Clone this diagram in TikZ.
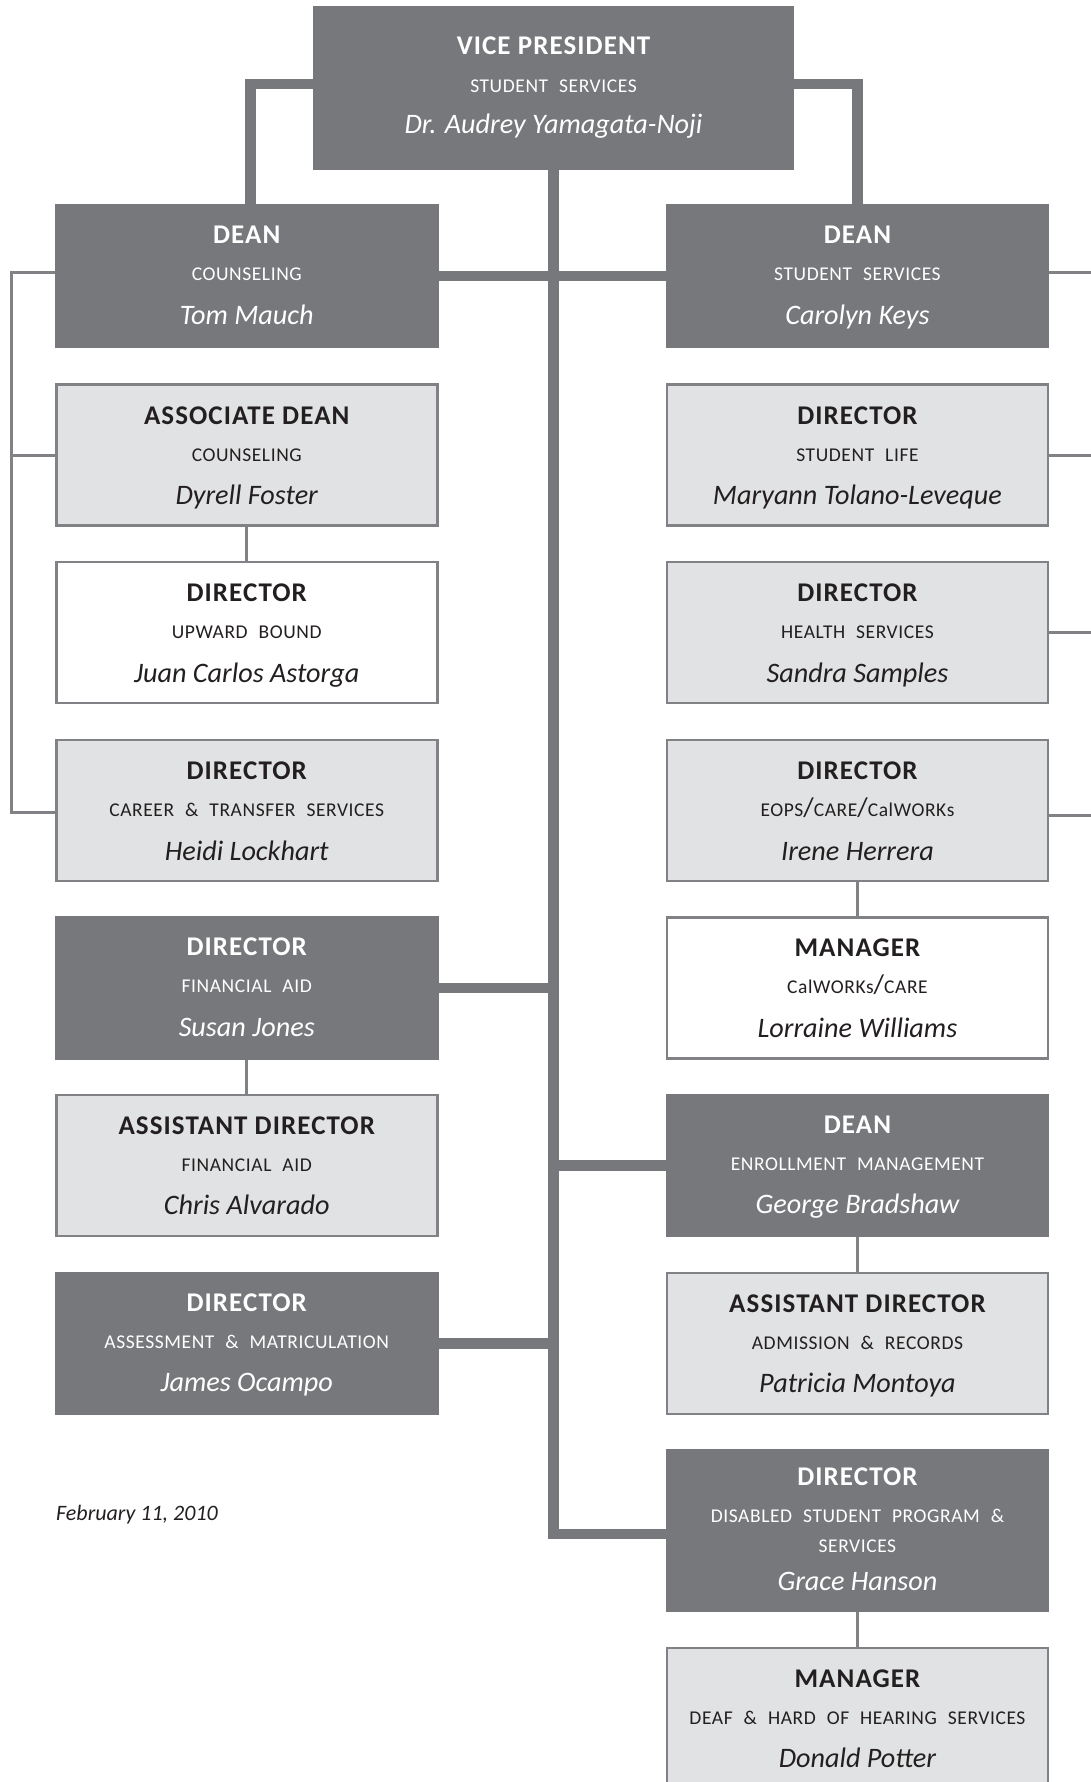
\documentclass[tikz,border=0pt]{standalone}
\usepackage{fontspec}
\setmainfont{Carlito}
\newfontfamily\titlefont[LetterSpace=4.0]{Carlito}
\newfontfamily\unitfont[LetterSpace=3.0,WordSpace=2.2]{Carlito}
\newfontfamily\personfont{Carlito}
\usetikzlibrary{backgrounds}

\definecolor{slate}{HTML}{77787B}
\definecolor{mist}{HTML}{E1E2E3}
\definecolor{rim}{HTML}{808285}
\definecolor{ink}{HTML}{231F20}

\tikzset{
  box/.style={rectangle, inner sep=0pt, outer sep=0pt, anchor=north west},
  darkbox/.style={box, fill=slate, minimum width=383.5, minimum height=143.5},
  palebox/.style={box, fill=mist, draw=rim, line width=2.5, minimum width=381,
    minimum height=141, xshift=1.25, yshift=-1.25},
  whitebox/.style={palebox, fill=white},
  title/.style={font=\titlefont\bfseries\fontsize{27}{30}\selectfont, inner sep=0pt, anchor=base},
  unit/.style={font=\unitfont\fontsize{19.5}{22}\selectfont, inner sep=0pt, anchor=base},
  person/.style={font=\personfont\itshape\fontsize{28.2}{32}\selectfont, inner sep=0pt, anchor=base},
  thicklink/.style={draw=slate, line width=10.5},
  thinlink/.style={draw=rim, line width=3},
}

% one position box: name, box style, text colour, north-west corner, title, unit, person
\newcommand{\orgbox}[7]{%
  \node[#2] (#1) at (#4) {};
  \node[title, text=#3] (#1-t) at ([yshift=-39.5]#1.north) {#5};
  \node[unit, text=#3] (#1-u) at ([yshift=-76.5]#1.north) {#6};
  \node[person, text=#3] (#1-p) at ([yshift=-120]#1.north) {#7};
}
\newcommand{\sep}{{\fontsize{27}{27}\selectfont/}}

\begin{document}
\begin{tikzpicture}[x=1pt, y=-1pt]
\useasboundingbox (0,0) rectangle (1091,1782);
\clip (0,0) rectangle (1091,1782);

% vice president
\node[darkbox, minimum width=480.4, minimum height=163.4] (vp) at (313.3,6.3) {};
\node[title, text=white] (vp-t) at ([yshift=-48]vp.north) {VICE PRESIDENT};
\node[unit, text=white] (vp-u) at ([yshift=-86]vp.north) {STUDENT SERVICES};
\node[person, text=white] (vp-p) at ([yshift=-127]vp.north) {Dr. Audrey Yamagata-Noji};

% left column
\orgbox{deanC}{darkbox}{white}{55,204.3}{DEAN}{COUNSELING}{Tom Mauch}
\orgbox{assoc}{palebox}{ink}{55,383.3}{ASSOCIATE DEAN}{COUNSELING}{Dyrell Foster}
\orgbox{upward}{whitebox}{ink}{55,560.8}{DIRECTOR}{UPWARD BOUND}{Juan Carlos Astorga}
\orgbox{career}{palebox}{ink}{55,738.8}{DIRECTOR}{CAREER \& TRANSFER SERVICES}{Heidi Lockhart}
\orgbox{finaid}{darkbox}{white}{55,916}{DIRECTOR}{FINANCIAL AID}{Susan Jones}
\orgbox{asstfa}{palebox}{ink}{55,1093.5}{ASSISTANT DIRECTOR}{FINANCIAL AID}{Chris Alvarado}
\orgbox{assess}{darkbox}{white}{55,1271.5}{DIRECTOR}{ASSESSMENT \& MATRICULATION}{James Ocampo}

% right column
\orgbox{deanS}{darkbox}{white}{665.7,204.3}{DEAN}{STUDENT SERVICES}{Carolyn Keys}
\orgbox{life}{palebox}{ink}{665.7,383.3}{DIRECTOR}{STUDENT LIFE}{Maryann Tolano-Leveque}
\orgbox{health}{palebox}{ink}{665.7,560.8}{DIRECTOR}{HEALTH SERVICES}{Sandra Samples}
\orgbox{eops}{palebox}{ink}{665.7,738.8}{DIRECTOR}{EOPS\sep CARE\sep CalWORKs}{Irene Herrera}
\orgbox{calworks}{whitebox}{ink}{665.7,916}{MANAGER}{CalWORKs\sep CARE}{Lorraine Williams}
\orgbox{enroll}{darkbox}{white}{665.7,1093.5}{DEAN}{ENROLLMENT MANAGEMENT}{George Bradshaw}
\orgbox{admit}{palebox}{ink}{665.7,1271.5}{ASSISTANT DIRECTOR}{ADMISSION \& RECORDS}{Patricia Montoya}

\node[darkbox, minimum height=163] (dsps) at (665.7,1449.3) {};
\node[title, text=white] (dsps-t) at ([yshift=-36.5]dsps.north) {DIRECTOR};
\node[unit, text=white] (dsps-u) at ([yshift=-73.5]dsps.north) {DISABLED STUDENT PROGRAM \&};
\node[unit, text=white] (dsps-v) at ([yshift=-103.5]dsps.north) {SERVICES};
\node[person, text=white] (dsps-p) at ([yshift=-141.5]dsps.north) {Grace Hanson};

\orgbox{deaf}{palebox}{ink}{665.7,1646.7}{MANAGER}{DEAF \& HARD OF HEARING SERVICES}{Donald Potter}

% date
\node[font=\personfont\itshape\fontsize{22}{26}\selectfont, text=ink, inner sep=0pt,
  anchor=base west] (date) at (56,1520.7) {February 11, 2010};

% connectors
\coordinate (lb) at (11.7,0);
\coordinate (rb) at (1100,0);
\begin{scope}[on background layer]
  \draw[thicklink] ([yshift=4]vp.west) -| ([xshift=3.75]deanC.north);
  \draw[thicklink] ([yshift=4]vp.east) -| (deanS.north);
  \draw[thicklink] (vp.south) |- ([yshift=-3]dsps.west);
  \draw[thicklink] (deanC.east) -- (deanS.west);
  \draw[thicklink] (finaid.east) -- (finaid.east -| vp.south);
  \draw[thicklink] (enroll.west) -- (enroll.west -| vp.south);
  \draw[thicklink] (assess.east) -- (assess.east -| vp.south);

  \draw[thinlink] ([yshift=4]deanC.west) -| ([yshift=-2]career.west -| lb) -- ([yshift=-2]career.west);
  \draw[thinlink] (assoc.west) -- (assoc.west -| lb);
  \draw[thinlink] ([yshift=4]deanS.east) -- ([yshift=4]deanS.east -| rb);
  \draw[thinlink] (life.east) -- (life.east -| rb);
  \draw[thinlink] (health.east) -- (health.east -| rb);
  \draw[thinlink] ([yshift=-5]eops.east) -- ([yshift=-5]eops.east -| rb);

  \draw[thinlink] (assoc.south) -- (upward.north);
  \draw[thinlink] (eops.south) -- (calworks.north);
  \draw[thinlink] (finaid.south) -- (asstfa.north);
  \draw[thinlink] (enroll.south) -- (admit.north);
  \draw[thinlink] (dsps.south) -- (deaf.north);
\end{scope}
\end{tikzpicture}
\end{document}
